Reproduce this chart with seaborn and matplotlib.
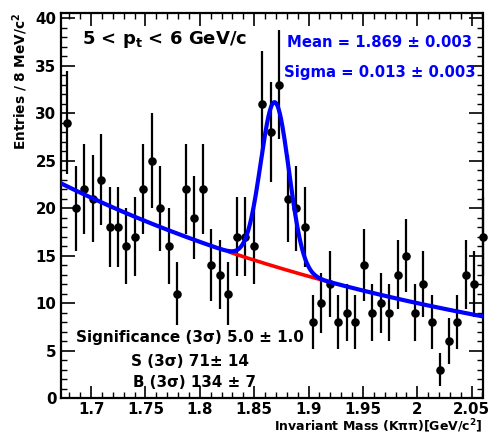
import numpy as np
import pandas as pd
import matplotlib
matplotlib.use("Agg")
import matplotlib.pyplot as plt
from matplotlib.ticker import MultipleLocator
import seaborn as sns

# ---- data ----
bin_start = 1.674
bin_width = 0.0078
counts = [29, 20, 22, 21, 23, 18, 18, 16, 17, 22,
          25, 20, 16, 11, 22, 19, 22, 14, 13, 11,
          17, 17, 16, 31, 28, 33, 21, 20, 18, 8,
          10, 12, 8, 9, 8, 14, 9, 10, 9, 13,
          15, 9, 12, 8, 3, 6, 8, 13, 12, 17]

# fit parameters (gaussian + exponential background)
fit_mean = 1.869
fit_sigma = 0.013
gauss_amp = 17.3
bkg_x0, bkg_y0 = 1.674, 22.5
bkg_x1, bkg_y1 = 2.060, 8.6
red_range = (1.827, 1.920)

xlim = (1.672, 2.060)
ylim = (0, 40.5)
xtick_vals = [1.7, 1.75, 1.8, 1.85, 1.9, 1.95, 2.0, 2.05]
xtick_labels = ["1.7", "1.75", "1.8", "1.85", "1.9", "1.95", "2", "2.05"]

# ---- styling ----
sns.set_theme(style="ticks")
plt.rcParams['font.family'] = ['DejaVu Sans']
plt.rcParams['font.weight'] = 'bold'
plt.rcParams['mathtext.fontset'] = 'dejavusans'
plt.rcParams['mathtext.default'] = 'bf'
plt.rcParams['text.color'] = 'black'
plt.rcParams['axes.labelcolor'] = 'black'
plt.rcParams['xtick.color'] = 'black'
plt.rcParams['ytick.color'] = 'black'

W, H = 493, 436
fig = plt.figure(figsize=(W / 100, H / 100), dpi=100)
L, R, T, B = 60.7, 482.5, 13.3, 398.0
ax = fig.add_axes([L / W, 1 - B / H, (R - L) / W, (B - T) / H])

n = len(counts)
centers = bin_start + bin_width * (np.arange(n) + 0.5)
df = pd.DataFrame({"mass": centers, "entries": counts})
df["err"] = np.sqrt(df["entries"])


def bkg(x):
    b = np.log(bkg_y1 / bkg_y0) / (bkg_x1 - bkg_x0)
    return bkg_y0 * np.exp(b * (x - bkg_x0))


def total(x):
    return bkg(x) + gauss_amp * np.exp(-0.5 * ((x - fit_mean) / fit_sigma) ** 2)


# error bars + points
ax.errorbar(df["mass"], df["entries"], yerr=df["err"], fmt="none",
            ecolor="black", elinewidth=1.6, capsize=0, zorder=3, clip_on=False)
sns.scatterplot(data=df, x="mass", y="entries", ax=ax, color="black",
                s=38, edgecolor="black", linewidth=0, zorder=4, clip_on=False,
                legend=False)

# fit curves
xr = np.linspace(red_range[0], red_range[1], 200)
sns.lineplot(x=xr, y=bkg(xr), ax=ax, color="red", linewidth=2.6, zorder=5)
xb = np.linspace(xlim[0], xlim[1], 600)
sns.lineplot(x=xb, y=total(xb), ax=ax, color="blue", linewidth=3.0, zorder=6)

ax.set_xlim(*xlim)
ax.set_ylim(*ylim)
ax.set_xlabel("")
ax.set_ylabel("")

ax.xaxis.set_minor_locator(MultipleLocator(0.01))
ax.yaxis.set_major_locator(MultipleLocator(5))
ax.yaxis.set_minor_locator(MultipleLocator(1))
ax.set_xticks(xtick_vals)
ax.set_xticklabels(xtick_labels)
ax.tick_params(axis="both", which="major", direction="in", length=9, width=1.2,
               top=True, right=True, labelsize=10.8, color="black",
               labelcolor="black")
ax.tick_params(axis="x", which="major", pad=3)
ax.tick_params(axis="y", which="major", length=10, pad=3)
ax.tick_params(axis="both", which="minor", direction="in", length=4.5, width=1.0,
               top=True, right=True, color="black")
for lab in ax.get_xticklabels() + ax.get_yticklabels():
    lab.set_fontweight("bold")
for sp in ax.spines.values():
    sp.set_linewidth(1.6)
    sp.set_color("black")


def ftext(x, y, s, **kw):
    kw.setdefault("color", "black")
    fig.text(x / W, 1 - y / H, s, fontweight="bold", **kw)


ftext(82, 44, r"5 < p$_{t}$ < 6 GeV/c", fontsize=13, va="baseline")
ftext(287, 47, "Mean = 1.869 ± 0.003", fontsize=10.7, color="blue", va="baseline")
ftext(284, 77, "Sigma = 0.013 ± 0.003", fontsize=10.7, color="blue", va="baseline")
ftext(76, 342, "Significance (3σ) 5.0 ± 1.0", fontsize=11, va="baseline")
ftext(131, 366, "S (3σ) 71± 14", fontsize=11, va="baseline")
ftext(133, 387, "B (3σ) 134 ± 7", fontsize=10.8, va="baseline")

ftext(483, 431, r"Invariant Mass (Kππ)[GeV/c$^{2}$]", fontsize=9.0,
      ha="right", va="baseline")
ftext(20, 13, r"Entries / 8 MeV/c$^{2}$", fontsize=9.8, rotation=90,
      ha="center", va="top")

fig.savefig("out.png", dpi=100)
